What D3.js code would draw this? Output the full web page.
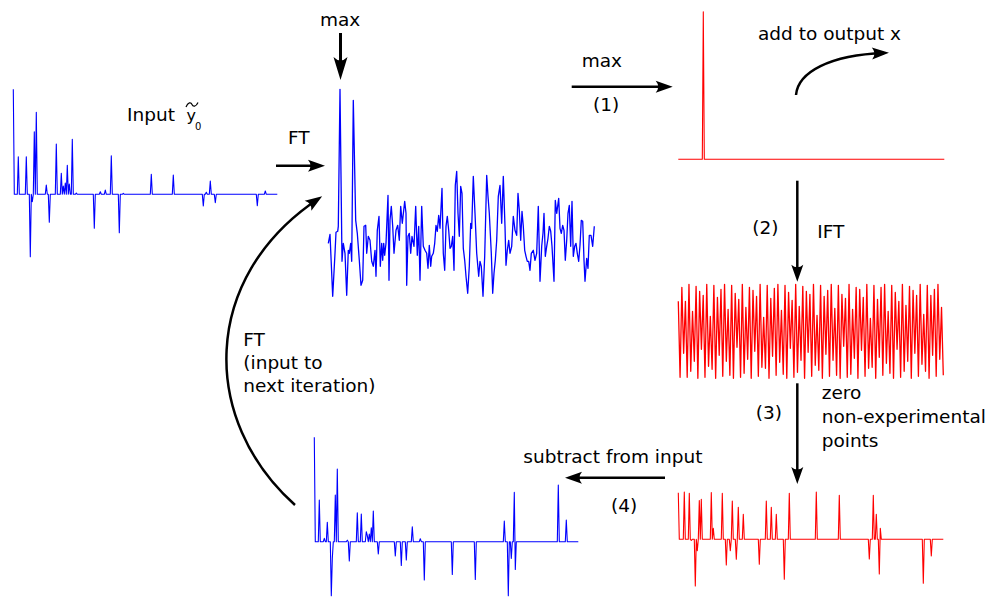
<!DOCTYPE html>
<html>
<head>
<meta charset="utf-8">
<script src="https://cdn.jsdelivr.net/npm/d3@7/dist/d3.min.js"></script>
<style>
  body { margin: 0; background: #fff; }
  text { font-family: "DejaVu Sans", sans-serif; font-size: 18.5px; fill: #000; }
</style>
</head>
<body>
<svg id="chart" width="991" height="598"></svg>
<script>
// sparse signals: [sample, amplitude]
const inputSpikes = [[0,105],[5,37.6],[13,37.6],[17,-62.4],[19,-7.4],[21,62.6],[23,82],[33,9.3],[36,-28],
  [43,50.3],[48,21],[50,8.3],[52,11.3],[54,29],[56,10.3],[59,55],[63,1.3],[81,-34],[87,2.6],[92,4.3],
  [98,38.6],[106,-38.4],[110,1],[138,20],[160,19.3],[190,-11.7],[193,2],[197,13.3],[202,-8.4],[244,-11.4],[252,3.3]];

const maxSpike = [[25,147.6]];

const zeroedSpikes = [[0,46.6],[6,47.3],[11,46],[13,-1],[17,-46.7],[19,-11.3],[21,38.7],[23,40],[33,46.7],[35,11],
  [44,46],[48,-25.7],[52,-11.3],[54,38.3],[58,-20],[60,32],[65,25],[81,-25],[88,38.3],[93,32],[98,25],
  [106,-40],[111,46],[138,47.3],[161,44],[191,-19.7],[195,44],[198,25],[201,-34.7],[202,11],[245,-44],[253,-16.7]];

const residualSpikes = [[0,104.4],[5,41.7],[10,3.3],[13,19.3],[17,-54],[18,-16.7],[21,46.7],[23,72.7],[33,1.5],
  [35,-19.3],[43,29],[47,27.7],[52,10],[53,6],[55,7.7],[57,14],[59,30.7],[64,-12.3],[81,-14.3],[87,-23.7],
  [92,-18.3],[98,15],[106,3],[110,-38.3],[138,-32.7],[161,-37.7],[190,20.7],[194,-54],[197,-16.7],[200,49.3],
  [201,-27.7],[244,56.7],[252,21.7]];

// spectrum after FT: [sample, amplitude]
const ftSeries = [[8.3,0],[10,9],[12.7,-53],[15,-10],[16,11],[17.7,12],[18.3,17],[20,154],[22,-18],[23.3,0],
  [25,-10],[26.7,-52],[28.3,-7],[29.3,-10],[30.7,0],[31.7,-18],[33.3,143],[35.7,23],[37.3,10],[39.3,-17],
  [41,-42],[42.7,-37],[44,17],[45.7,18],[46.7,-10],[48.3,7],[50,3],[51.7,-18],[53.3,-23],[55,-7],[56,-33],
  [57.3,13],[59,27],[60.3,-23],[61.7,0],[62.7,-17],[63.7,0],[64.7,-12],[66,0],[68,48],[69,-37],[70,23],
  [71.3,37],[72.7,17],[74,-10],[76,13],[77.7,18],[79.3,3],[80.7,37],[82.3,20],[84.7,42],[86,30],[86.7,-42],
  [88,7],[89.3,10],[90.7,-10],[92,7],[94,-3],[95.7,37],[97.3,-12],[98.7,17],[100,-37],[101.7,37],[103.3,-3],
  [105,-7],[106.7,-10],[108,-25],[109.3,-2],[110.7,-23],[111.7,-13],[113.3,-10],[114.7,0],[116,18],[117.3,12],
  [118.7,28],[120,15],[122,55],[123.3,-10],[124.7,-27],[126,17],[127.3,27],[128.7,13],[130,-5],[131.3,-3],
  [132.7,7],[134,-27],[135.3,58],[136.7,72],[138,30],[139.3,7],[140.7,57],[142,50],[143.3,-5],[144.7,-17],
  [146,-33],[147.7,-50],[149.3,-23],[150.7,20],[151.7,15],[153.3,67],[155,30],[156.7,-10],[158.7,-33],
  [160,-18],[161.3,-23],[163,-53],[164.7,-13],[166.7,68],[168,47],[169.3,30],[171.3,-10],[172.7,-50],
  [174,-30],[175.3,-17],[176.7,3],[178.3,47],[180,58],[181.7,20],[183.3,67],[185,17],[186,-22],[187.3,-7],
  [188.7,3],[190,-10],[191.7,-3],[193.3,27],[195,13],[196.7,8],[198,50],[199.3,33],[200.7,3],[202,32],
  [203.3,17],[204.7,-7],[206,-13],[207.3,-18],[208.7,-18],[210,-27],[211.3,-10],[213.3,-7],[215,-17],
  [216.7,-10],[218.3,37],[220,-38],[221.7,-3],[223,10],[224,30],[225.3,-13],[226.7,-3],[228,5],[229.3,17],
  [230.7,12],[232,-3],[234,-38],[235.3,43],[236.7,30],[238.7,45],[240,15],[241.3,10],[242.7,18],[244,13],
  [245.3,-17],[246.7,3],[248,30],[249.3,38],[250.7,-3],[252,42],[253.3,-13],[254.7,-3],[256,0],[257.3,-10],
  [258.7,-18],[260,-2],[261.3,23],[262.7,22],[264,-17],[265,-38],[266.7,-15],[268,-25],[269.3,8],[271,8],
  [272.7,-3],[274.3,17]];

// inverse FT of the max component
const iftValues = [30,-46,44,-22,30,-46,47,-40,20,-30,45,-47,40,-18,36,-46,47,-35,15,-38,46,-47,34,-24,42,
  -45,47,-30,22,-44,46,-47,38,-16,32,-46,47,-42,24,-28,44,-47,41,-20,35,-45,47,-36,14,-37,46,-47,33,-25,43,
  -44,47,-31,21,-43,46,-47,39,-17,31,-46,47,-41,25,-29,45,-47,40,-21,37,-45,47,-34,16,-39,46,-47,35,-23,41,
  -45,47,-29,23,-44,46,-47,37,-15,33,-46,47,-43,22,-27,44,-47,42,-19,34,-45,47,-37,13,-36,46,-47,32,-26,44,
  -44,47,-32,20,-42,46,-47,39,-18,30,-46,47,-40,26,-30,45,-47,41,-22,36,-45,47,-33,17,-40,46,-47,36,-24,42,
  -45,47,-28,24,-44];

const svg = d3.select('#chart');

// arrow heads
const defs = svg.append('defs');
defs.append('marker')
  .attr('id', 'arr').attr('viewBox', '-18 -7 22 14')
  .attr('markerWidth', 22).attr('markerHeight', 14)
  .attr('refX', -5).attr('refY', 0)
  .attr('orient', 'auto').attr('markerUnits', 'userSpaceOnUse')
  .append('path').attr('d', 'M0,0 L-17,-6 Q-12,0 -17,6 Z').attr('fill', '#000');
defs.append('marker')
  .attr('id', 'arrBig').attr('viewBox', '-24 -8 28 16')
  .attr('markerWidth', 28).attr('markerHeight', 16)
  .attr('refX', -5).attr('refY', 0)
  .attr('orient', 'auto').attr('markerUnits', 'userSpaceOnUse')
  .append('path').attr('d', 'M0,0 L-23,-7 Q-16,0 -23,7 Z').attr('fill', '#000');

// turn a list of spikes into a full series on a zero baseline
function spikeSeries(spikes, n) {
  const s = d3.range(n + 1).map((i) => [i, 0]);
  spikes.forEach(([t, v]) => { s[t][1] = v; });
  return s;
}

function drawSignal(points, xDomain, x0, x1, base, color, width) {
  const x = d3.scaleLinear().domain(xDomain).range([x0, x1]);
  const y = d3.scaleLinear().domain([0, 100]).range([base, base - 100]);
  svg.append('path')
    .datum(points)
    .attr('fill', 'none')
    .attr('stroke', color)
    .attr('stroke-width', width)
    .attr('stroke-linejoin', 'round')
    .attr('d', d3.line().x((d) => x(d[0])).y((d) => y(d[1])));
}

drawSignal(spikeSeries(inputSpikes, 264), [0, 264], 13.3, 277.3, 194.3, '#0000ff', 1.1);
drawSignal(ftSeries, [0, 285], 320, 605, 243.3, '#0000ff', 1.3);
drawSignal(spikeSeries(maxSpike, 266), [0, 266], 678.3, 944.3, 159.3, '#ff0000', 1.1);
drawSignal(iftValues.map((v, i) => [i, v]), [0, iftValues.length - 1], 678.3, 943.3, 331.3, '#ff0000', 1.3);
drawSignal(spikeSeries(zeroedSpikes, 265), [0, 265], 678.3, 943.3, 539.3, '#ff0000', 1.1);
drawSignal(spikeSeries(residualSpikes, 264), [0, 264], 314.3, 578.3, 541.7, '#0000ff', 1.1);

// arrows
function arrow(d, big) {
  svg.append('path')
    .attr('d', d)
    .attr('fill', 'none')
    .attr('stroke', '#000')
    .attr('stroke-width', big ? 3 : 2.5)
    .attr('marker-end', big ? 'url(#arrBig)' : 'url(#arr)');
}
arrow('M340.5,33 L340.5,75', true);
arrow('M276,165.7 L320,165.7');
arrow('M571.7,86.7 L667.7,86.7');
arrow('M796,95 C798,72 830,55 884,53');
arrow('M797.3,180.7 L797.3,276.7');
arrow('M797.3,383.3 L797.3,479');
arrow('M665,477.7 L570,477.7');
arrow('M295,505 C200,420 200,278 318,199');

// labels
const labels = [
  ['max', 320, 26], ['Input', 127, 121], ['FT', 288, 144],
  ['max', 581.7, 67.3], ['(1)', 593, 111], ['add to output x', 758, 40],
  ['(2)', 752.3, 234], ['IFT', 817.3, 237.7],
  ['(3)', 755.7, 419], ['zero', 821.7, 399.3], ['non-experimental', 821.7, 423.3], ['points', 821.7, 446.7],
  ['subtract from input', 523.3, 462.7], ['(4)', 611, 511.7],
  ['FT', 243.3, 345.7], ['(input to', 243.3, 369], ['next iteration)', 243.3, 391.7]
];
svg.selectAll('text.lbl')
  .data(labels)
  .enter()
  .append('text')
  .attr('class', 'lbl')
  .attr('x', (d) => d[1])
  .attr('y', (d) => d[2])
  .text((d) => d[0]);

// y with tilde and subscript 0
svg.append('text').attr('x', 186.5).attr('y', 121).style('font-size', '16px').text('y');
svg.append('path')
  .attr('d', 'M186,107 C188,102 191,102 192,104.5 C193,107 196,107 198,102.5')
  .attr('fill', 'none').attr('stroke', '#000').attr('stroke-width', 1.2);
svg.append('text').attr('x', 195).attr('y', 130).style('font-size', '10px').text('0');
</script>
</body>
</html>
